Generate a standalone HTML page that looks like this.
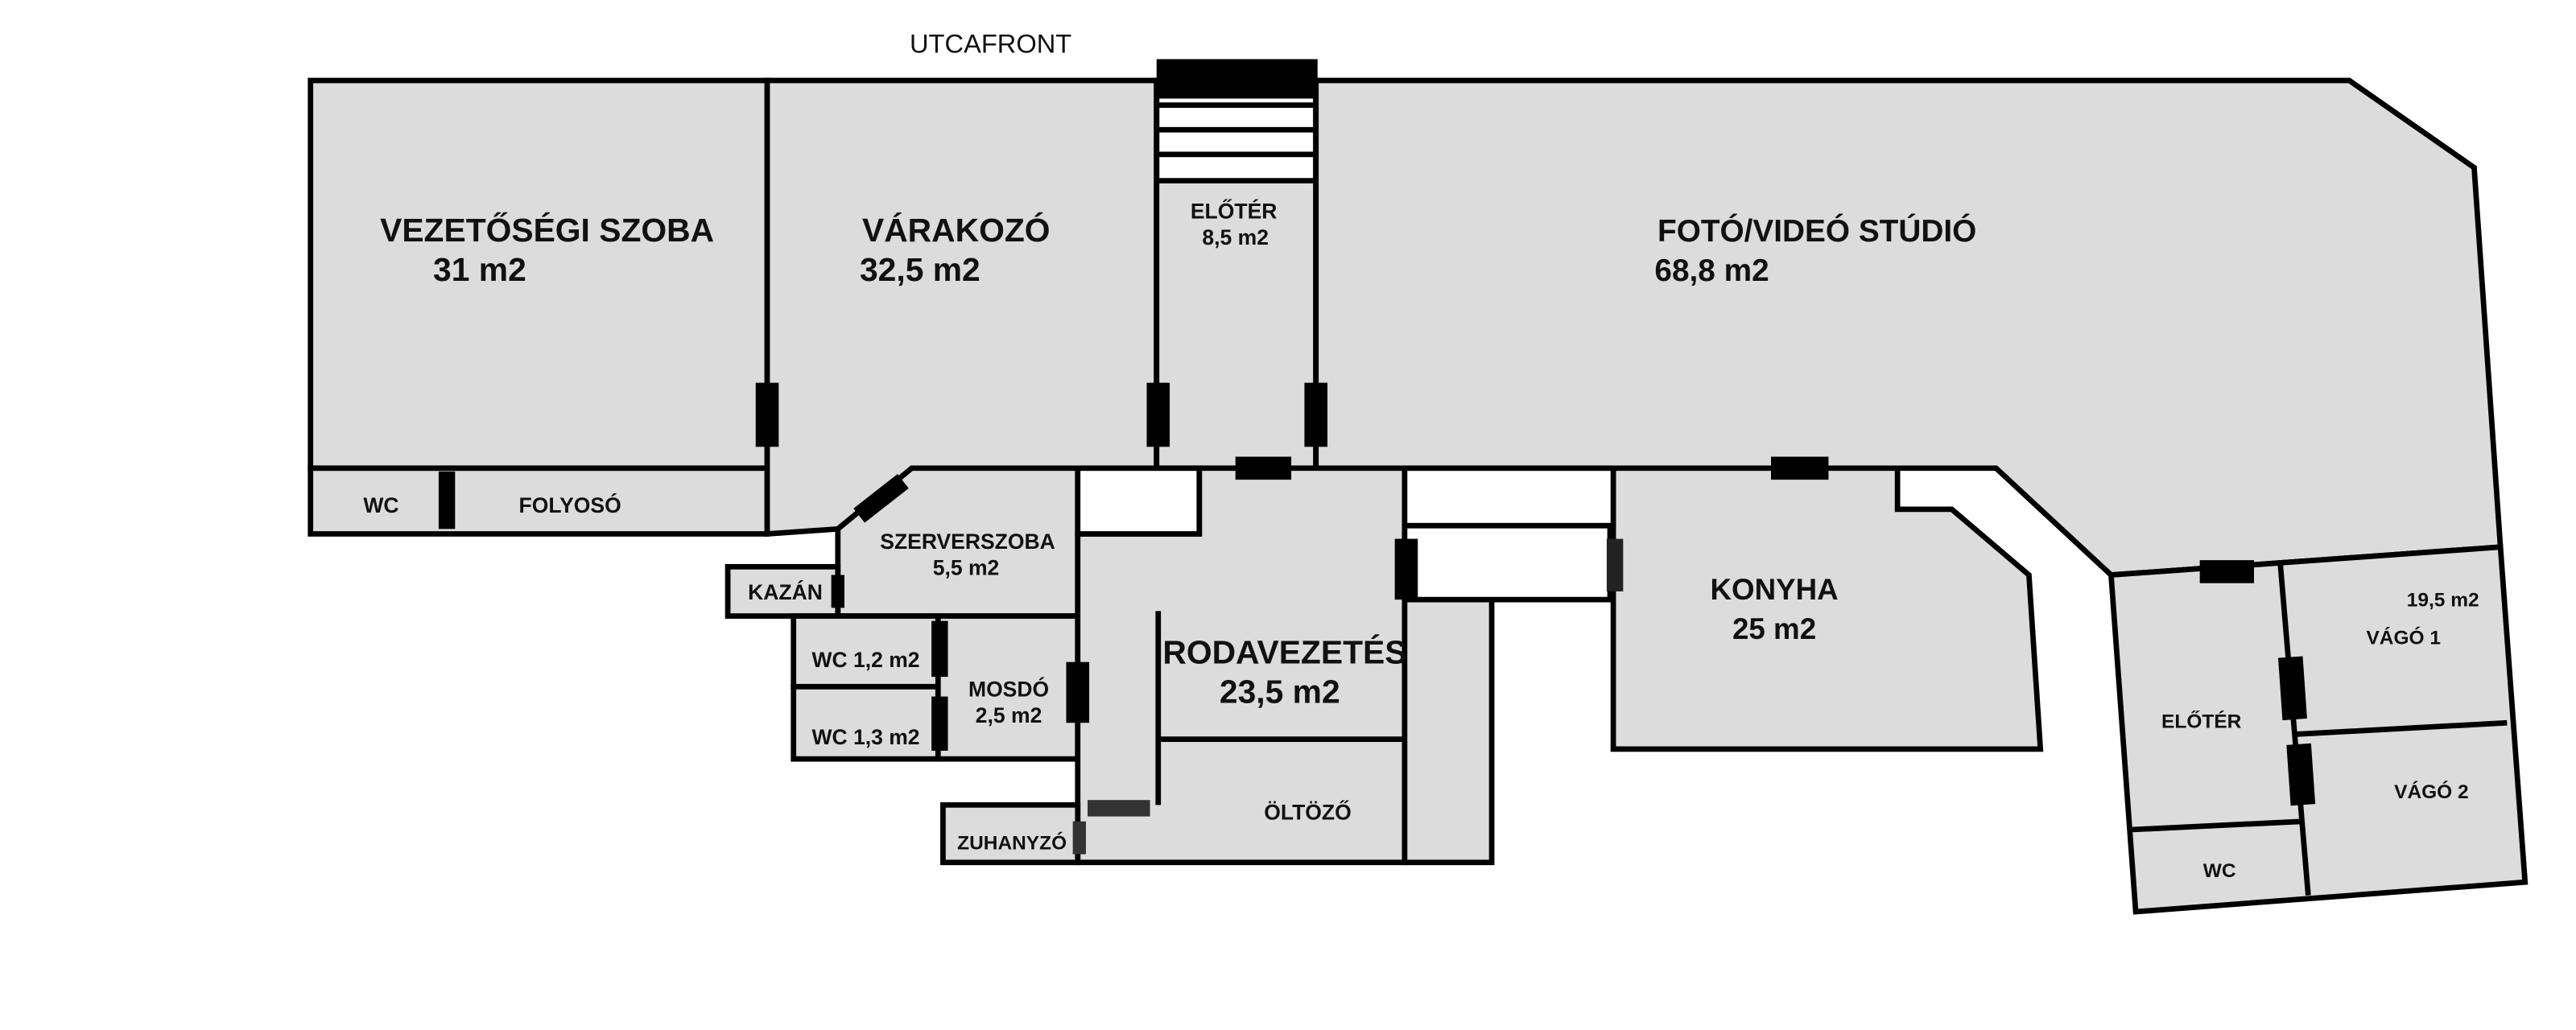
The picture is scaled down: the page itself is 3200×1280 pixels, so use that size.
<!DOCTYPE html>
<html><head><meta charset="utf-8"><style>
html,body{margin:0;padding:0;background:#fff}
svg{display:block}
text{font-family:"Liberation Sans Narrow","Liberation Sans",sans-serif;font-weight:bold;fill:#111;text-anchor:middle}
.w{font-family:"Liberation Sans",sans-serif}
</style></head><body>
<svg width="3200" height="1280" viewBox="0 0 1568 627" preserveAspectRatio="none" xmlns="http://www.w3.org/2000/svg">
<rect width="1568" height="627" fill="#fff"/>
<g fill="#dcdcdc" stroke="#000" stroke-width="3.3" stroke-linejoin="miter">
<rect x="189" y="49" width="278" height="236"/>
<rect x="189" y="285" width="278" height="40"/>
<polygon points="467,49 704,49 704,285 555,285 510,322 467,325"/>
<rect x="704" y="49" width="97" height="236"/>
<polygon points="801,49 1430,49 1506,102 1522,333 1285,350 1215,285 801,285"/>
<polygon points="510,322 555,285 656,285 656,375 510,375"/>
<rect x="443" y="345" width="67" height="30"/>
<rect x="483" y="375" width="88" height="43"/>
<rect x="483" y="418" width="88" height="44"/>
<rect x="571" y="375" width="85" height="87"/>
<polygon points="656,325 730,325 730,285 855,285 855,525 656,525"/>
<rect x="574" y="490" width="82" height="35"/>
<rect x="855" y="320" width="53" height="205"/>
<polygon points="982,285 1155,285 1155,310 1188,310 1235,350 1242,456 982,456"/>
<polygon points="1285,350 1522,333 1537,537 1300,555"/>
</g>
<rect x="706" y="58" width="93" height="52" fill="#fff"/>
<g fill="#fff" stroke="#000" stroke-width="3.3">
<rect x="656" y="285" width="74" height="40"/>
<rect x="855" y="285" width="127" height="35"/>
<rect x="855" y="320" width="125" height="45"/>
</g>
<g stroke="#000" stroke-width="3.3" fill="none">
<line x1="705" y1="372" x2="705" y2="490"/>
<line x1="705" y1="450" x2="855" y2="450"/>
<line x1="1388" y1="343" x2="1405" y2="545"/>
<line x1="1397" y1="447" x2="1526" y2="440"/>
<line x1="1298" y1="505" x2="1402" y2="500"/>
<line x1="704" y1="64" x2="801" y2="64"/>
<line x1="704" y1="79" x2="801" y2="79"/>
<line x1="704" y1="94" x2="801" y2="94"/>
<line x1="704" y1="110" x2="801" y2="110"/>
<line x1="704" y1="49" x2="704" y2="285"/>
<line x1="801" y1="49" x2="801" y2="285"/>
</g>
<g fill="#000">
<rect x="704" y="36" width="98" height="24"/>
<rect x="460" y="233" width="14" height="39"/>
<rect x="698" y="233" width="14" height="39"/>
<rect x="794" y="233" width="14" height="39"/>
<rect x="752" y="278" width="34" height="14"/>
<rect x="1078" y="278" width="35" height="14"/>
<rect x="849" y="328" width="14" height="37"/>
<rect x="978" y="328" width="10" height="32" fill="#222"/>
<rect x="267" y="287" width="10" height="35"/>
<rect x="519" y="298" width="34" height="11" transform="rotate(-38 536 303)"/>
<rect x="506" y="350" width="8" height="20"/>
<rect x="567" y="378" width="10" height="34"/>
<rect x="567" y="424" width="10" height="33"/>
<rect x="649" y="403" width="14" height="37"/>
<rect x="662" y="487" width="38" height="10" fill="#333"/>
<rect x="653" y="500" width="8" height="20" fill="#333"/>
<rect x="1339" y="341" width="33" height="14"/>
<rect x="1388" y="400" width="15" height="38" transform="rotate(-4 1395 419)"/>
<rect x="1393" y="453" width="15" height="37" transform="rotate(-4 1400 471)"/>
</g>
<text class="w" x="603" y="32" font-size="16" style="font-weight:normal">UTCAFRONT</text>
<text x="333" y="147" font-size="20">VEZETŐSÉGI SZOBA</text>
<text x="292" y="171" font-size="20">31 m2</text>
<text x="582" y="147" font-size="20">VÁRAKOZÓ</text>
<text x="560" y="171" font-size="20">32,5 m2</text>
<text x="751" y="133" font-size="13">ELŐTÉR</text>
<text x="752" y="149" font-size="13">8,5 m2</text>
<text class="w" x="1106" y="147" font-size="19">FOTÓ/VIDEÓ STÚDIÓ</text>
<text class="w" x="1042" y="171" font-size="19">68,8 m2</text>
<text x="232" y="312" font-size="13">WC</text>
<text x="347" y="312" font-size="13">FOLYOSÓ</text>
<text x="589" y="334" font-size="13">SZERVERSZOBA</text>
<text x="588" y="350" font-size="13">5,5 m2</text>
<text x="478" y="365" font-size="13">KAZÁN</text>
<text x="527" y="406" font-size="13">WC 1,2 m2</text>
<text x="527" y="453" font-size="13">WC 1,3 m2</text>
<text x="614" y="424" font-size="13">MOSDÓ</text>
<text x="614" y="440" font-size="13">2,5 m2</text>
<text x="782" y="404" font-size="20">RODAVEZETÉS</text>
<text x="779" y="428" font-size="20">23,5 m2</text>
<text x="796" y="499" font-size="13">ÖLTÖZŐ</text>
<text x="616" y="517" font-size="12">ZUHANYZÓ</text>
<text class="w" x="1080" y="365" font-size="18">KONYHA</text>
<text class="w" x="1080" y="389" font-size="18">25 m2</text>
<text class="w" x="1487" y="369" font-size="12">19,5 m2</text>
<text class="w" x="1463" y="392" font-size="12">VÁGÓ 1</text>
<text class="w" x="1340" y="443" font-size="12">ELŐTÉR</text>
<text class="w" x="1480" y="486" font-size="12">VÁGÓ 2</text>
<text class="w" x="1351" y="534" font-size="12">WC</text>
</svg>
</body></html>
